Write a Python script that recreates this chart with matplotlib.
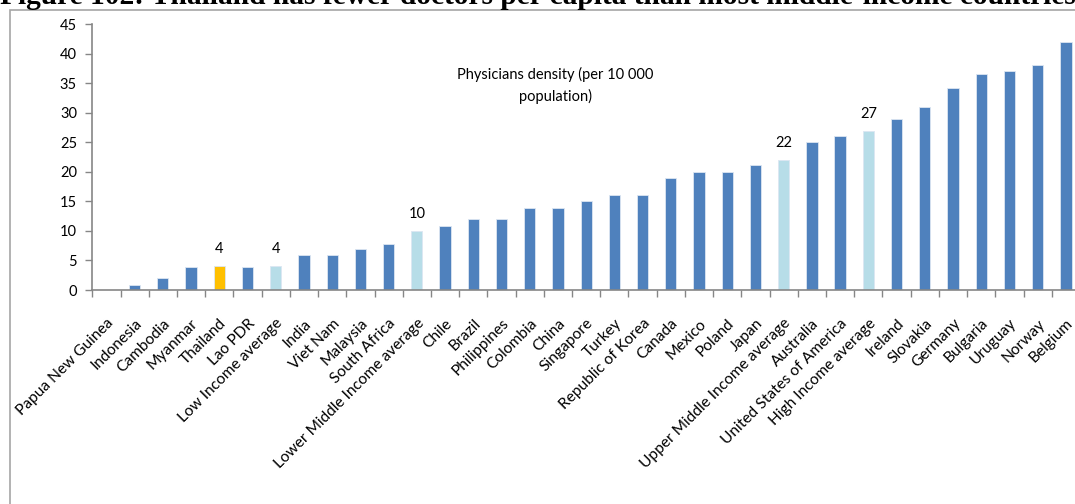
import matplotlib
matplotlib.use("Agg")
import matplotlib.pyplot as plt
from matplotlib.patches import Rectangle
import numpy as np

categories = ["Papua New Guinea", "Indonesia", "Cambodia", "Myanmar", "Thailand", "Lao PDR",
              "Low Income average", "India", "Viet Nam", "Malaysia", "South Africa",
              "Lower Middle Income average", "Chile", "Brazil", "Philippines", "Colombia",
              "China", "Singapore", "Turkey", "Republic of Korea", "Canada", "Mexico", "Poland",
              "Japan", "Upper Middle Income average", "Australia", "United States of America",
              "High Income average", "Ireland", "Slovakia", "Germany", "Bulgaria", "Uruguay",
              "Norway", "Belgium"]
values = [0, 0.8, 2, 3.9, 4.1, 3.9, 4.1, 6, 6, 7, 7.8, 10, 10.9, 12, 12, 13.9, 13.9, 15, 16, 16,
          19, 19.9, 19.9, 21.1, 22, 25, 26, 26.9, 29, 31, 34.1, 36.6, 37.1, 38, 42]
labelled = {"Thailand": "4", "Low Income average": "4", "Lower Middle Income average": "10",
            "Upper Middle Income average": "22", "High Income average": "27"}
y_ticks = [0, 5, 10, 15, 20, 25, 30, 35, 40, 45]
title = "Figure 102: Thailand has fewer doctors per capita than most middle-income countries"
annotation = "Physicians density (per 10 000\npopulation)"

BLUE = "#4F81BD"
GOLD = "#FFC000"
LIGHT = "#B7DDE8"
colors = []
for c in categories:
    if c == "Thailand":
        colors.append(GOLD)
    elif "average" in c:
        colors.append(LIGHT)
    else:
        colors.append(BLUE)

W, H = 1075, 504
fig = plt.figure(figsize=(W / 100, H / 100), dpi=100)
FONT = ["Lato", "DejaVu Sans"]

# outer frame
fig.add_artist(Rectangle((10 / W, -0.1), 1.2, 1 - 9.5 / H + 0.1, transform=fig.transFigure,
                         fill=False, edgecolor="#A6A6A6", linewidth=1.2))

# title (clipped at top, as in the reference)
fig.text(0.0, 1 - 4.0 / H, title, ha="left", va="baseline", fontsize=21.2,
         fontweight="bold", family=["Liberation Serif", "DejaVu Serif"])

left_px, right_px, zero_px, top_px = 92.3, 1080.0, 290.0, 24.0
ax = fig.add_axes([left_px / W, 1 - zero_px / H, (right_px - left_px) / W, (zero_px - top_px) / H])
x = np.arange(len(categories))
ax.bar(x, values, width=0.4, color=colors, edgecolor="#DCE6F2", linewidth=0.6, zorder=2)
ax.set_xlim(-0.5, len(categories) - 0.5)
ax.set_ylim(0, 45)

for i, c in enumerate(categories):
    if c in labelled:
        ax.annotate(labelled[c], (i, values[i]), xytext=(0, 7), textcoords="offset points",
                    ha="center", va="bottom", fontsize=10.5, family=FONT, color="#000000")

ax.set_yticks(y_ticks)
ax.set_yticklabels([str(v) for v in y_ticks], fontsize=10.5, family=FONT)
ax.set_xticks(x)
ax.set_xticklabels(categories, rotation=45, ha="right", va="top", rotation_mode="anchor",
                   fontsize=11.2, family=FONT)
ax.set_xticks(np.arange(len(categories) + 1) - 0.5, minor=True)
ax.tick_params(axis="x", which="major", length=0, pad=19)
ax.tick_params(axis="x", which="minor", length=5, color="#868686", width=1)
ax.tick_params(axis="y", length=5, color="#868686", width=1, pad=6)
for s in ["top", "right"]:
    ax.spines[s].set_visible(False)
for s in ["left", "bottom"]:
    ax.spines[s].set_color("#868686")
    ax.spines[s].set_linewidth(1.2)
ax.set_facecolor("none")

fig.text(555 / W, 1 - 85.5 / H, annotation, ha="center", va="center", fontsize=10.5,
         family=FONT, linespacing=1.6)

fig.savefig("out.png", dpi=100)
